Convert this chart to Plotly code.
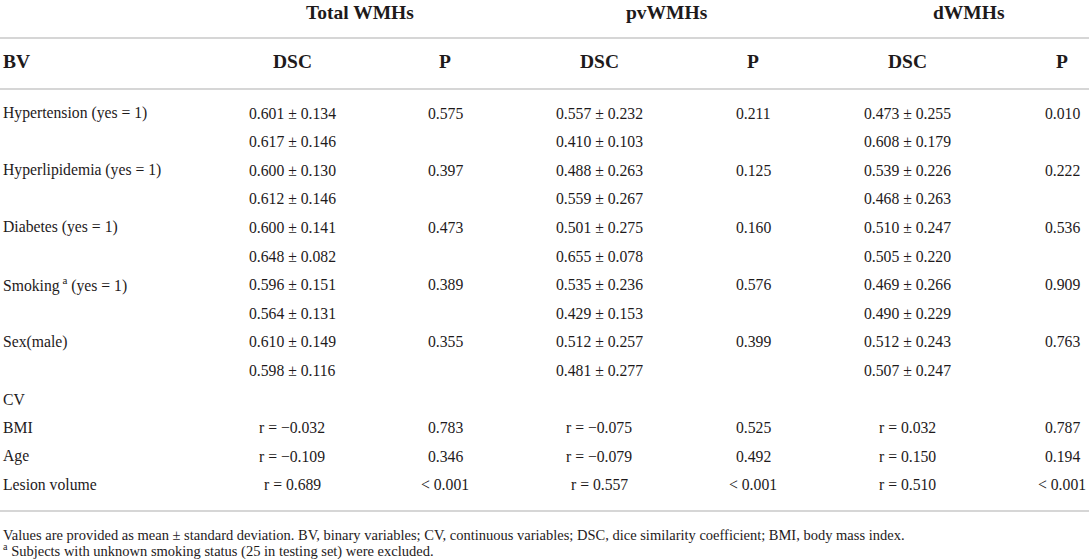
import plotly.graph_objects as go

W, H = 1089, 559

groups = ["Total WMHs", "pvWMHs", "dWMHs"]
sub_headers = ["DSC", "P"]

row_labels = [
    "Hypertension (yes = 1)", "",
    "Hyperlipidemia (yes = 1)", "",
    "Diabetes (yes = 1)", "",
    "Smoking<sup> a</sup> (yes = 1)", "",
    "Sex(male)", "",
    "CV",
    "BMI", "Age", "Lesion volume",
]

total_dsc = [
    "0.601 ± 0.134", "0.617 ± 0.146",
    "0.600 ± 0.130", "0.612 ± 0.146",
    "0.600 ± 0.141", "0.648 ± 0.082",
    "0.596 ± 0.151", "0.564 ± 0.131",
    "0.610 ± 0.149", "0.598 ± 0.116",
    "",
    "r = −0.032", "r = −0.109", "r = 0.689",
]
total_p = ["0.575", "", "0.397", "", "0.473", "", "0.389", "", "0.355", "",
           "", "0.783", "0.346", "< 0.001"]

pv_dsc = [
    "0.557 ± 0.232", "0.410 ± 0.103",
    "0.488 ± 0.263", "0.559 ± 0.267",
    "0.501 ± 0.275", "0.655 ± 0.078",
    "0.535 ± 0.236", "0.429 ± 0.153",
    "0.512 ± 0.257", "0.481 ± 0.277",
    "",
    "r = −0.075", "r = −0.079", "r = 0.557",
]
pv_p = ["0.211", "", "0.125", "", "0.160", "", "0.576", "", "0.399", "",
        "", "0.525", "0.492", "< 0.001"]

d_dsc = [
    "0.473 ± 0.255", "0.608 ± 0.179",
    "0.539 ± 0.226", "0.468 ± 0.263",
    "0.510 ± 0.247", "0.505 ± 0.220",
    "0.469 ± 0.266", "0.490 ± 0.229",
    "0.512 ± 0.243", "0.507 ± 0.247",
    "",
    "r = 0.032", "r = 0.150", "r = 0.510",
]
d_p = ["0.010", "", "0.222", "", "0.536", "", "0.909", "", "0.763", "",
       "", "0.787", "0.194", "< 0.001"]

notes = [
    "Values are provided as mean ± standard deviation. BV, binary variables; CV, continuous variables; "
    "DSC, dice similarity coefficient; BMI, body mass index.",
    "<sup>a</sup> Subjects with unknown smoking status (25 in testing set) were excluded.",
]

# layout (pixels)
FONT = "Liberation Serif"
INK = "#1e1a1b"
col_x = [292, 445, 599, 753, 907, 1062]
group_x = [360, 667, 969]
row_y0, row_dy = 113, 28.6

fig = go.Figure()
ann = []

def txt(x, y, s, size=15.7, bold=False, anchor="center"):
    ann.append(dict(x=x, y=y, xref="x", yref="y", text=f"<b>{s}</b>" if bold else s,
                    showarrow=False, xanchor=anchor, yanchor="middle",
                    font=dict(family=FONT, size=size, color=INK)))

for g, gx in zip(groups, group_x):
    txt(gx, 12, g, size=19.5, bold=True)

txt(1, 61, "BV", size=19.5, bold=True, anchor="left")
for i, cx in enumerate(col_x):
    txt(cx, 61, sub_headers[i % 2], size=19.5, bold=True)

cols = [total_dsc, total_p, pv_dsc, pv_p, d_dsc, d_p]
for r, lab in enumerate(row_labels):
    y = row_y0 + r * row_dy
    if lab:
        txt(1, y, lab, anchor="left")
    for cx, col in zip(col_x, cols):
        if col[r]:
            txt(cx, y, col[r])

txt(1, 535, notes[0], size=14.5, anchor="left")
txt(1, 550, notes[1], size=14.5, anchor="left")

for ly in [38, 89, 511]:
    fig.add_shape(type="line", x0=0, x1=W, y0=ly, y1=ly, xref="x", yref="y",
                  line=dict(color="#c9c9c9", width=1.5))

fig.add_trace(go.Scatter(x=[0, W], y=[0, H], mode="markers",
                         marker=dict(opacity=0), hoverinfo="skip", showlegend=False))

fig.update_layout(
    width=W, height=H, margin=dict(l=0, r=0, t=0, b=0),
    paper_bgcolor="white", plot_bgcolor="white",
    annotations=ann,
    xaxis=dict(range=[0, W], visible=False, fixedrange=True),
    yaxis=dict(range=[H, 0], visible=False, fixedrange=True),
)

fig.write_html("out.html", config={"displayModeBar": False},
               post_script="document.body.style.margin='0';document.body.style.overflow='hidden';")
